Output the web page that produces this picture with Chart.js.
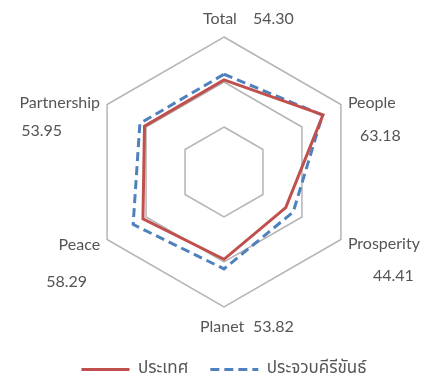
<!DOCTYPE html>
<html>
<head>
<meta charset="utf-8">
<script src="https://cdn.jsdelivr.net/npm/chart.js@4/dist/chart.umd.min.js"></script>
<style>
  html, body { margin: 0; padding: 0; background: #fff; }
  #wrap { width: 428px; height: 380px; }
</style>
</head>
<body>
<div id="wrap"><canvas id="sdgRadar"></canvas></div>
<script>
// --- DADOS ---
const categories = ['Total', 'People', 'Prosperity', 'Planet', 'Peace', 'Partnership'];
const countryValues = [51.2, 63.5, 39.6, 48.5, 52.0, 51.0];
const provinceValues = [54.30, 63.18, 44.41, 53.82, 58.29, 53.95];
const seriesNames = ['ประเทศ', 'ประจวบคีรีขันธ์'];
const scaleTicks = [0, 25, 50, 75];

const textFont = "Lato, 'Open Sans', sans-serif";
const thaiFont = "'Noto Sans Thai', 'Noto Sans', Lato, sans-serif";
const textColor = '#555555';

// where each axis caption sits relative to its outer vertex
const labelPlacement = [
  { nx: -21, ny: -18, na: 'left',  vx: 29,  vy: -18, va: 'left' },
  { nx: 7,   ny: -2,  na: 'left',  vx: 19,  vy: 31,  va: 'left' },
  { nx: 7,   ny: 4,   na: 'left',  vx: 32,  vy: 36,  va: 'left' },
  { nx: -24, ny: 20,  na: 'left',  vx: 29,  vy: 20,  va: 'left' },
  { nx: -7,  ny: 5,   na: 'right', vx: -20, vy: 42,  va: 'right' },
  { nx: -7,  ny: -2,  na: 'right', vx: -45, vy: 26,  va: 'right' }
];

const axisCaptions = {
  id: 'axisCaptions',
  afterDraw(chart) {
    const scale = chart.scales.r;
    const ctx = chart.ctx;
    ctx.save();
    ctx.font = '16px ' + textFont;
    ctx.fillStyle = textColor;
    ctx.textBaseline = 'middle';
    categories.forEach((name, i) => {
      const p = scale.getPointPosition(i, scale.drawingArea);
      const lp = labelPlacement[i];
      ctx.textAlign = lp.na;
      ctx.fillText(name, p.x + lp.nx, p.y + lp.ny);
      ctx.textAlign = lp.va;
      ctx.fillText(provinceValues[i].toFixed(2), p.x + lp.vx, p.y + lp.vy);
    });
    ctx.restore();
  }
};

new Chart(document.getElementById('sdgRadar'), {
  type: 'radar',
  data: {
    labels: categories,
    datasets: [{
      label: seriesNames[0], data: countryValues,
      borderColor: '#c0504d', backgroundColor: '#c0504d', borderWidth: 3,
      fill: false, pointRadius: 0, pointStyle: 'line', tension: 0
    }, {
      label: seriesNames[1], data: provinceValues,
      borderColor: '#4f81bd', backgroundColor: '#4f81bd', borderWidth: 3,
      borderDash: [9, 5], fill: false, pointRadius: 0, pointStyle: 'line', tension: 0
    }]
  },
  options: {
    responsive: true, maintainAspectRatio: false, animation: false,
    layout: { padding: { top: 37, bottom: -8, left: 30, right: 10 } },
    plugins: {
      legend: {
        position: 'bottom',
        // empty title only used as spacer above the legend row
        title: { display: true, text: '', font: { size: 10, lineHeight: 1 }, padding: { top: 0, bottom: 21 } },
        labels: {
          usePointStyle: true, pointStyleWidth: 48, padding: 22,
          color: textColor, font: { size: 17, family: thaiFont },
          generateLabels: chart => Chart.defaults.plugins.legend.labels.generateLabels(chart).map((item, i) => ({
            ...item,
            lineDash: chart.data.datasets[i].borderDash || [],
            lineWidth: chart.data.datasets[i].borderWidth
          }))
        }
      },
      tooltip: { enabled: false }
    },
    scales: {
      r: {
        min: scaleTicks[0], max: scaleTicks[scaleTicks.length - 1],
        ticks: { stepSize: scaleTicks[1] - scaleTicks[0], display: false },
        grid: { color: '#b4b4b4', lineWidth: 1.5 },
        angleLines: { display: false },
        pointLabels: { display: false }
      }
    }
  },
  plugins: [axisCaptions]
});
</script>
</body>
</html>
